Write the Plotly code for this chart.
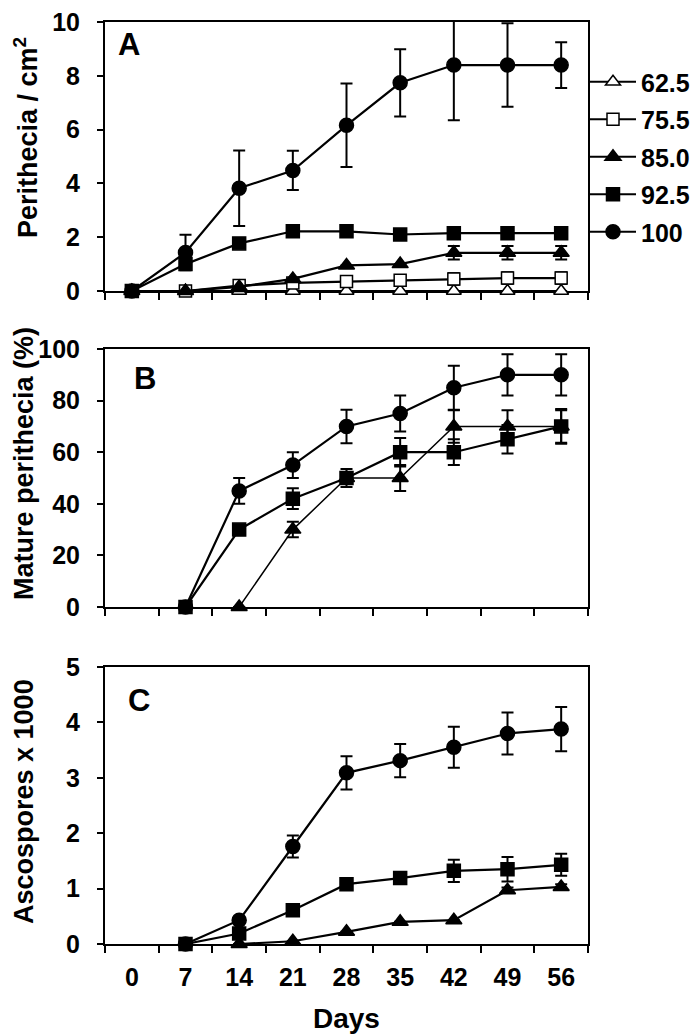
import plotly.graph_objects as go

# ---------------- data ----------------
days = [0, 7, 14, 21, 28, 35, 42, 49, 56]
series_names = ["62.5", "75.5", "85.0", "92.5", "100"]

# Panel A: Perithecia / cm2
a_625 = [0, 0, 0, 0, 0, 0, 0, 0, 0]
a_755 = [0, 0, 0.2, 0.3, 0.35, 0.4, 0.45, 0.48, 0.48]
a_850 = [0, 0, 0.15, 0.45, 0.95, 1.0, 1.42, 1.42, 1.42]
a_925 = [0, 1.0, 1.77, 2.22, 2.22, 2.1, 2.15, 2.15, 2.15]
a_100 = [0, 1.43, 3.82, 4.48, 6.16, 7.74, 8.4, 8.4, 8.4]
a_755_err = [0, 0, 0, 0, 0, 0, 0.22, 0.22, 0.22]
a_850_err = [0, 0, 0, 0, 0, 0, 0.25, 0.25, 0.25]
a_925_err = [0, 0, 0, 0, 0, 0, 0, 0, 0]
a_100_err = [0, 0.66, 1.4, 0.73, 1.55, 1.25, 2.05, 1.55, 0.85]

# Panel B: Mature perithecia (%)
b_days = [7, 14, 21, 28, 35, 42, 49, 56]
b_850 = [None, 0, 30, 50, 50, 70, 70, 70]
b_925 = [0, 30, 42, 50, 60, 60, 65, 70]
b_100 = [0, 45, 55, 70, 75, 85, 90, 90]
b_850_err = [None, 0, 3, 0, 5, 6.3, 6.3, 6.3]
b_925_err = [0, 0, 4, 3.5, 5.5, 5, 5.5, 6.7]
b_100_err = [0, 5, 5, 6.5, 7, 8.5, 8, 8]

# Panel C: Ascospores x 1000
c_days = [7, 14, 21, 28, 35, 42, 49, 56]
c_850 = [None, 0, 0.05, 0.22, 0.4, 0.43, 0.97, 1.03]
c_925 = [0, 0.19, 0.61, 1.08, 1.19, 1.32, 1.35, 1.43]
c_100 = [0, 0.43, 1.76, 3.09, 3.31, 3.55, 3.8, 3.88]
c_850_err = [None, 0, 0, 0, 0, 0, 0.05, 0.05]
c_925_err = [0, 0, 0, 0, 0, 0.2, 0.22, 0.2]
c_100_err = [0, 0.05, 0.2, 0.3, 0.3, 0.37, 0.38, 0.4]

day_ticks = [0, 7, 14, 21, 28, 35, 42, 49, 56]
boundary_ticks = [-3.5, 3.5, 10.5, 17.5, 24.5, 31.5, 38.5, 45.5, 52.5, 59.5]

# ---------------- styles ----------------
FONT = "Arial, Liberation Sans, sans-serif"
style = {
    "62.5": dict(symbol="triangle-up", color="white", size=13),
    "75.5": dict(symbol="square", color="white", size=12),
    "85.0": dict(symbol="triangle-up", color="black", size=14),
    "92.5": dict(symbol="square", color="black", size=13),
    "100": dict(symbol="circle", color="black", size=14),
}

fig = go.Figure()


def add_series(name, x, y, err, xa, ya, legend, lw=2.2):
    st = style[name]
    # error bars (clipped to the plot area)
    fig.add_trace(go.Scatter(
        x=x, y=y, mode="markers", xaxis=xa, yaxis=ya,
        marker=dict(size=1, color="rgba(0,0,0,0)"),
        error_y=dict(type="data", array=err, symmetric=True, color="black",
                     thickness=2, width=6),
        showlegend=False, hoverinfo="skip", cliponaxis=True))
    fig.add_trace(go.Scatter(
        x=x, y=y, mode="lines+markers", name=name, xaxis=xa, yaxis=ya,
        line=dict(color="black", width=lw),
        marker=dict(symbol=st["symbol"], size=st["size"], color=st["color"],
                    line=dict(color="black", width=1.5)),
        connectgaps=False, showlegend=legend, legendgroup=name,
        cliponaxis=False))


# Panel A
add_series("62.5", days, a_625, [0] * 9, "x", "y", True)
add_series("75.5", days, a_755, a_755_err, "x", "y", True)
add_series("85.0", days, a_850, a_850_err, "x", "y", True)
add_series("92.5", days, a_925, a_925_err, "x", "y", True)
add_series("100", days, a_100, a_100_err, "x", "y", True)

# Panel B
add_series("85.0", b_days, b_850, b_850_err, "x2", "y2", False, lw=1.5)
add_series("92.5", b_days, b_925, b_925_err, "x2", "y2", False)
add_series("100", b_days, b_100, b_100_err, "x2", "y2", False)

# Panel C
add_series("85.0", c_days, c_850, c_850_err, "x3", "y3", False)
add_series("92.5", c_days, c_925, c_925_err, "x3", "y3", False)
add_series("100", c_days, c_100, c_100_err, "x3", "y3", False)

# The page puts the figure 8 px in from the window's top-left corner.
OFF = 8
W, H = 700 - OFF, 1035 - OFF


def px(x):
    return (x - OFF) / W


def py(y):
    return 1 - (y - OFF) / H


xdom = [px(105), px(588)]


def ydom(top, bottom):
    return [py(bottom), py(top)]


tickfont = dict(family=FONT, size=25, color="black", weight="bold")


def xaxis_cfg(anchor, labels):
    return dict(
        domain=xdom, anchor=anchor, range=[-3.5, 59.5], automargin=False,
        tickmode="array", tickvals=day_ticks, ticktext=[str(d) for d in day_ticks],
        ticks="", showticklabels=labels, tickfont=tickfont,
        ticklabelstandoff=10, ticklabeloverflow="allow",
        showline=True, linecolor="black", linewidth=2, mirror=True,
        showgrid=False, zeroline=False, layer="below traces",
        minor=dict(tickmode="array", tickvals=boundary_ticks, ticks="outside",
                   ticklen=7, tickwidth=2, tickcolor="black", showgrid=False),
    )


def yaxis_cfg(anchor, dom, rng, dtick):
    return dict(
        domain=dom, anchor=anchor, range=rng, dtick=dtick, tick0=0,
        automargin=False, ticklabeloverflow="allow",
        ticks="outside", ticklen=6, tickwidth=2, tickcolor="black",
        tickfont=tickfont, ticklabelstandoff=12,
        showline=True, linecolor="black", linewidth=2, mirror=True,
        showgrid=False, zeroline=False, layer="below traces",
    )


fig.update_layout(
    width=W, height=H,
    margin=dict(l=0, r=0, t=0, b=0, autoexpand=False),
    paper_bgcolor="white", plot_bgcolor="white",
    font=dict(family=FONT, color="black"),
    xaxis=xaxis_cfg("y", False),
    xaxis2=xaxis_cfg("y2", False),
    xaxis3=xaxis_cfg("y3", True),
    yaxis=yaxis_cfg("x", ydom(22, 291), [0, 10], 2),
    yaxis2=yaxis_cfg("x2", ydom(349, 607), [0, 100], 20),
    yaxis3=yaxis_cfg("x3", ydom(667, 944), [0, 5], 1),
    showlegend=True,
    legend=dict(
        x=px(585), y=py(59), xanchor="left", yanchor="top",
        font=dict(family=FONT, size=25, color="black", weight="bold"),
        bgcolor="rgba(0,0,0,0)", borderwidth=0,
        tracegroupgap=2, itemwidth=46,
    ),
)

title_font = dict(family=FONT, size=27, color="black", weight="bold")
annos = [
    dict(text="Perithecia / cm<sup>2</sup>", x=px(26), y=py(138)),
    dict(text="Mature perithecia (%)", x=px(24), y=py(464)),
    dict(text="Ascospores x 1000", x=px(24), y=py(802)),
]
for a in annos:
    fig.add_annotation(xref="paper", yref="paper", textangle=-90,
                       xanchor="center", yanchor="middle", showarrow=False,
                       font=title_font, **a)

fig.add_annotation(text="Days", xref="paper", yref="paper", x=px(346),
                   y=py(1018), xanchor="center", yanchor="middle",
                   showarrow=False, font=dict(family=FONT, size=28,
                                              color="black", weight="bold"))

panel_font = dict(family=FONT, size=31, color="black", weight="bold")
for letter, lx, ly in [("A", 129, 44), ("B", 145, 378), ("C", 139, 700)]:
    fig.add_annotation(text=letter, xref="paper", yref="paper", x=px(lx),
                       y=py(ly), xanchor="center", yanchor="middle",
                       showarrow=False, font=panel_font)

fig.write_html("out.html")
